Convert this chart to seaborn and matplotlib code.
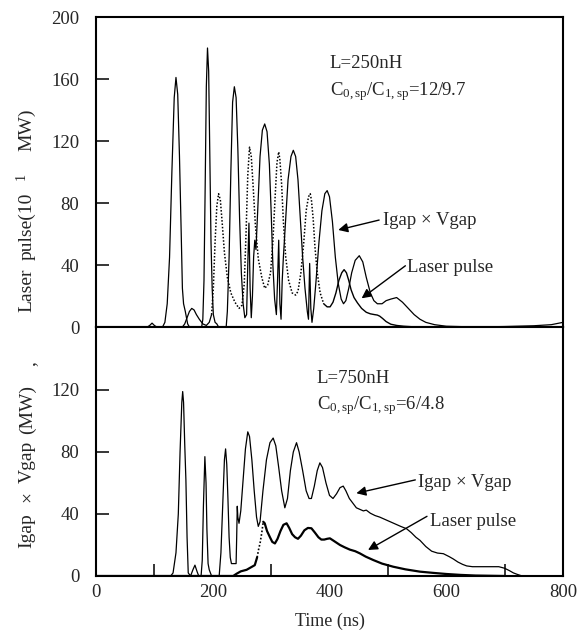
import numpy as np
import pandas as pd
import matplotlib
matplotlib.use("Agg")
import matplotlib.pyplot as plt
import seaborn as sns

# ---------------- data ----------------
# Upper panel: L = 250 nH
top_igap_t = [0, 88, 92, 96, 100, 104, 114, 118, 122, 126,
              130, 134, 137, 140, 143, 146, 148, 150, 153, 157,
              160, 181, 183, 185, 187, 189, 191, 193, 195, 197,
              199, 201, 204, 207, 210, 223, 225, 228, 231, 234,
              237, 240, 243, 246, 249, 252, 255, 258, 260, 262,
              264, 266, 268, 270, 272, 274, 277, 281, 285, 289,
              293, 297, 300, 303, 306, 309, 311, 313, 315, 317,
              319, 321, 325, 329, 334, 338, 342, 346, 350, 354,
              358, 362, 364, 366, 368, 370, 373, 377, 382, 387,
              392, 396, 400, 405, 410, 415, 420, 424, 428, 433,
              438, 444, 451, 457, 463, 470, 476, 482, 490, 497,
              505, 515, 525, 535, 545, 555, 565, 580, 600, 650,
              700, 750, 780, 800]
top_igap_v = [0, 0, 1, 2.5, 1, 0, 0, 3, 15, 45,
              100, 148, 161, 150, 110, 60, 25, 15, 10, 2,
              0, 0, 5, 30, 90, 155, 180, 165, 110, 55,
              25, 8, 3, 2, 0, 0, 10, 45, 100, 145,
              155, 148, 115, 70, 35, 15, 6, 8, 40, 67,
              25, 6, 20, 45, 56, 50, 75, 110, 127, 131,
              126, 105, 75, 40, 18, 8, 30, 56, 15, 5,
              30, 45, 70, 95, 110, 114, 110, 95, 70, 45,
              25, 10, 5, 41, 12, 3, 12, 30, 55, 75,
              86, 88, 84, 68, 45, 28, 18, 15, 17, 25,
              35, 43, 46, 42, 32, 22, 17, 15, 15, 17,
              18, 19, 16, 12, 8, 5, 3, 1.5, 0.5, 0,
              0.3, 0.8, 1.5, 3]

top_laser_t = [0, 148, 152, 156, 160, 164, 168, 172, 177, 183,
               189, 194, 198, 201, 204, 207, 210, 213, 216, 220,
               225, 231, 238, 245, 250, 254, 257, 260, 263, 266,
               269, 273, 278, 284, 289, 294, 299, 303, 307, 310,
               313, 315, 318, 321, 325, 330, 336, 342, 346, 351,
               356, 360, 364, 367, 369, 372, 375, 379, 384, 390,
               396, 401, 406, 411, 416, 421, 425, 429, 433, 437,
               442, 448, 455, 463, 470, 477, 482, 486, 491, 497,
               505, 515, 527, 540, 560, 600, 800]
top_laser_v = [0, 0, 2, 6, 10, 12, 11, 8, 5, 2,
               1, 3, 8, 25, 55, 78, 86, 82, 68, 48,
               32, 22, 16, 12, 14, 28, 60, 98, 116, 110,
               92, 66, 44, 32, 25, 27, 35, 55, 85, 106,
               113, 108, 92, 68, 45, 30, 22, 20.6, 23, 35,
               55, 75, 84, 86, 82, 70, 52, 35, 22, 15,
               13, 13, 16, 22, 30, 35, 37, 35, 30, 24,
               19, 15.5, 12, 9.5, 8.5, 8, 7.7, 7, 5.5, 3.5,
               1.8, 1.0, 0.5, 0.2, 0, 0, 0]

# Lower panel: L = 750 nH
bot_igap_t = [0, 128, 132, 137, 141, 144, 147, 148.5, 150, 152,
              154, 156, 158, 162, 166, 169.5, 173, 176, 180, 182,
              184, 186.5, 188.5, 190, 192, 194, 196, 198, 211, 214,
              217, 220, 222, 224, 226, 228, 230, 232, 240, 241,
              242, 243, 245, 248, 252, 256, 260, 263, 267, 271,
              275, 278, 281, 286, 292, 298, 303.5, 308, 313, 318,
              323.5, 328, 333, 338, 343.5, 348, 354, 360, 365, 369,
              374, 379, 383.5, 388, 394, 400, 406, 412, 418, 423.5,
              428, 434, 440, 446, 452, 458, 463, 470, 478, 486,
              498, 510, 522, 532, 540, 548, 555, 565, 575, 585,
              595, 605, 612, 620, 628, 635, 645, 660, 675, 690,
              700, 708, 715, 722, 730]
bot_igap_v = [0, 0, 2, 15, 40, 80, 112, 119, 112, 85,
              62, 25, 2, 0, 4, 7, 3, 0, 0, 10,
              45, 77, 60, 30, 8, 4, 2, 0, 0, 15,
              45, 75, 82, 72, 50, 25, 12, 8, 8, 25,
              45, 38, 34, 42, 62, 82, 93, 90, 75, 55,
              38, 32, 35, 55, 75, 86, 89, 84, 70, 55,
              44, 50, 68, 80, 86, 80, 68, 55, 50, 50,
              58, 68, 73, 70, 60, 52, 50, 53, 57, 58,
              55, 50, 47, 44, 43, 42, 42.5, 40.5, 39, 38,
              36, 34, 32, 30.5, 28, 25, 23, 19, 16, 14.8,
              14.4, 12.5, 11, 9, 7.5, 6.5, 6, 6, 6, 6,
              5, 3.5, 2, 1, 0]

bot_laser_t = [0, 235, 241, 248, 258, 265, 272, 276, 279, 281,
               284, 286.5, 289, 293, 298, 302, 306.5, 311, 316, 321,
               326.5, 331, 336, 341, 346, 351, 357, 363, 369, 375,
               381, 386, 391, 396, 400.7, 406, 412, 418, 426, 435,
               444, 452, 462, 475, 490, 509, 530, 555, 578, 600,
               625, 650, 700]
bot_laser_v = [0, 0, 1.5, 3, 4, 5.5, 7, 12, 18, 21,
               28, 35, 34, 29, 25, 22, 21, 24, 29, 33,
               34, 31, 27, 25, 24, 26, 29.5, 31, 30.8, 28,
               25, 23.5, 23.5, 24, 24.3, 23, 21.5, 20, 18.5, 17,
               16, 14.6, 12.5, 10.3, 8, 6, 4.3, 2.8, 2, 1.3,
               0.7, 0.3, 0]

x_ticklabels = ["0", "200", "400", "600", "800"]
top_yticks = [0, 40, 80, 120, 160, 200]
bot_yticks = [0, 40, 80, 120]

# y-axis title, written as word groups (widely spaced in the original)
ylabel_words = ["Igap", "×", "Vgap", "(MW)", ",", "Laser", "pulse(10", "1", "MW)"]

# ---------------- style ----------------
sns.set_style("white")
plt.rcParams["font.family"] = ["Liberation Serif", "DejaVu Serif"]
plt.rcParams["mathtext.fontset"] = "custom"
plt.rcParams["mathtext.rm"] = "Liberation Serif"
plt.rcParams["mathtext.it"] = "Liberation Serif:italic"

W, H = 579, 637
fig = plt.figure(figsize=(5.79, 6.37), dpi=100)
L, R = 96 / W, 563 / W
ax_top = fig.add_axes([L, 1 - 327 / H, R - L, (327 - 17) / H])
ax_bot = fig.add_axes([L, 1 - 576 / H, R - L, (576 - 327) / H])


def split(t, v, lo, hi):
    t = np.asarray(t, float)
    v = np.asarray(v, float)
    a = t <= lo
    b = (t >= lo) & (t <= hi)
    c = t >= hi
    return (t[a], v[a]), (t[b], v[b]), (t[c], v[c])


def draw(ax, t, v, lw, ls="-"):
    df = pd.DataFrame({"t": t, "v": v})
    sns.lineplot(data=df, x="t", y="v", ax=ax, color="black", linewidth=lw,
                 linestyle=ls, estimator=None, sort=False)


dot = (0, (1.0, 1.2))

# top panel
draw(ax_top, top_igap_t, top_igap_v, 0.9)
s1, s2, s3 = split(top_laser_t, top_laser_v, 198, 390)
draw(ax_top, *s1, 0.9)
draw(ax_top, *s2, 1.1, dot)
draw(ax_top, *s3, 1.0)

# bottom panel
draw(ax_bot, bot_igap_t, bot_igap_v, 0.9)
b1, b2, b3 = split(bot_laser_t, bot_laser_v, 276, 286.5)
draw(ax_bot, *b1, 1.6)
draw(ax_bot, *b2, 1.2, dot)
draw(ax_bot, *b3, 1.6)

tick_fs = 13.5
for ax in (ax_top, ax_bot):
    ax.set_xlim(0, 800)
    ax.set_xlabel("")
    ax.set_ylabel("")
    for sp in ax.spines.values():
        sp.set_visible(True)
        sp.set_linewidth(1.5)
        sp.set_color("black")
    ax.tick_params(axis="y", direction="in", length=9, width=1.3, pad=12,
                   labelsize=tick_fs, left=True, right=False)

ax_top.set_ylim(0, 200)
ax_top.set_yticks(top_yticks)
ax_top.set_xticks([])
ax_top.tick_params(axis="x", bottom=False, labelbottom=False)

ax_bot.set_ylim(0, (576 - 327) / 1.55)
ax_bot.set_yticks(bot_yticks)
ax_bot.set_xticks([0, 200, 400, 600, 800])
ax_bot.set_xticklabels(x_ticklabels)
ax_bot.set_xticks([100, 200, 300, 400, 500, 600, 700], minor=True)
ax_bot.tick_params(axis="x", which="major", length=0, pad=6, labelsize=tick_fs)
ax_bot.tick_params(axis="x", which="minor", direction="in", length=9, width=1.3,
                   bottom=True)
ax_bot.set_xlabel("Time (ns)", fontsize=13, labelpad=8)

# y title pieces: centre positions in pixels
ylab_y = [531, 496, 462, 410, 364, 290, 226, 176, 130]
ylab_x = [27, 27, 27, 27, 30, 27, 27, 21.5, 27]
ylab_fs = [14, 14, 14, 14, 14, 14, 14, 10, 14]
for w, yy, xx, fs in zip(ylabel_words, ylab_y, ylab_x, ylab_fs):
    fig.text(xx / W, 1 - yy / H, w, rotation=90, ha="center", va="center",
             fontsize=fs)

txt_fs = 13.5
# annotations top
ax_top.text(400.7, 167.3, "L=250nH", fontsize=txt_fs, ha="left", va="baseline")
ax_top.text(400.7, 149.7, r"C$_{\mathrm{0,sp}}$/C$_{\mathrm{1,sp}}$=12/9.7",
            fontsize=txt_fs, ha="left", va="baseline")
ax_top.text(491, 65.8, "Igap × Vgap", fontsize=txt_fs, ha="left", va="baseline")
ax_top.text(532, 35.7, "Laser pulse", fontsize=txt_fs, ha="left", va="baseline")
arr = dict(arrowstyle="-|>", color="black", lw=1.0, mutation_scale=14,
           shrinkA=0, shrinkB=0)
ax_top.annotate("", xy=(415, 62.6), xytext=(485, 69), arrowprops=arr)
ax_top.annotate("", xy=(455, 18.5), xytext=(530, 39.5), arrowprops=arr)

# annotations bottom
ax_bot.text(378.4, 124.3, "L=750nH", fontsize=txt_fs, ha="left", va="baseline")
ax_bot.text(378.4, 107.5, r"C$_{\mathrm{0,sp}}$/C$_{\mathrm{1,sp}}$=6/4.8",
            fontsize=txt_fs, ha="left", va="baseline")
ax_bot.text(551, 57.6, "Igap × Vgap", fontsize=txt_fs, ha="left", va="baseline")
ax_bot.text(572, 32.3, "Laser pulse", fontsize=txt_fs, ha="left", va="baseline")
ax_bot.annotate("", xy=(446, 53.4), xytext=(547, 62), arrowprops=arr)
ax_bot.annotate("", xy=(466, 16.8), xytext=(567, 38.5), arrowprops=arr)

fig.savefig("out.png", dpi=100)
